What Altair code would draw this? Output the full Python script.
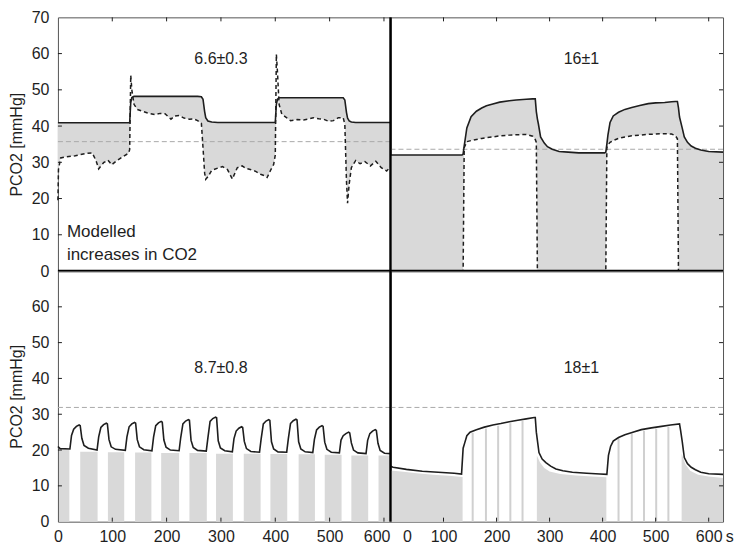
import altair as alt
import pandas as pd

FONT = "Liberation Sans"
INK = "#1e1e1e"
BAND = "#d9d9d9"
REFC = "#a9a9a9"

LEFT_DOM = [0, 612]
RIGHT_DOM = [0, 627]
W = 333
H_T, H_B = 254, 251

x_ticks = [100, 200, 300, 400, 500, 600]
x_labels = [0, 100, 200, 300, 400, 500, 600]
y_ticks = [10, 20, 30, 40, 50, 60]
y_labels_top = [0, 10, 20, 30, 40, 50, 60, 70]
y_labels_bottom = [0, 10, 20, 30, 40, 50, 60]

# ---------------- top-left panel ----------------
tl_t = [0, 1, 5, 14, 32, 50, 63, 70, 75, 84, 92, 99, 106, 114, 122, 130, 132,
        134, 136, 140, 146, 154, 165, 178, 188, 197, 208, 215, 223, 232, 242, 250, 257, 264,
        267, 270, 272, 276, 283, 294, 303, 312, 321, 330, 339, 346, 354, 364, 373, 380, 385, 392, 397, 400,
        402, 404, 407, 412, 420, 428, 440, 452, 462, 470, 480, 489, 498, 507, 516, 525,
        528, 531, 533, 536, 540, 548, 556, 565, 575, 585, 595, 605, 612]
tl_solid = [40.9, 40.9, 40.9, 40.9, 40.9, 40.9, 40.9, 40.9, 40.9, 40.9, 40.9, 40.9, 40.9, 40.9, 40.9, 40.9, 40.9,
            46.5, 47.9, 48.2, 48.2, 48.2, 48.2, 48.2, 48.2, 48.2, 48.2, 48.2, 48.2, 48.2, 48.2, 48.2, 48.2, 48.1,
            47.4, 44.0, 42.3, 41.4, 41.1, 41.0, 41.0, 41.0, 41.0, 41.0, 41.0, 41.0, 41.0, 41.0, 41.0, 41.0, 41.0, 41.0, 41.0, 41.0,
            46.0, 47.4, 47.8, 47.8, 47.8, 47.8, 47.8, 47.8, 47.8, 47.8, 47.8, 47.8, 47.8, 47.8, 47.8, 47.8,
            47.2, 43.8, 42.2, 41.4, 41.1, 41.0, 41.0, 41.0, 41.0, 41.0, 41.0, 41.0, 41.0]
tl_dashed = [19.5, 28.0, 31.2, 31.5, 31.8, 32.4, 32.6, 30.5, 28.2, 29.9, 30.6, 29.3, 30.2, 31.0, 31.8, 32.5, 33.5,
             54.0, 50.0, 46.0, 44.6, 44.2, 43.6, 43.2, 43.5, 43.4, 41.9, 42.8, 42.9, 42.2, 41.9, 42.0, 41.5, 40.8,
             34.0, 27.0, 25.3, 26.0, 27.8, 28.4, 28.8, 28.0, 25.4, 28.5, 29.0, 28.3, 28.0, 27.5, 26.7, 26.3, 25.8, 28.0, 29.4, 32.0,
             59.8, 55.0, 46.0, 43.3, 42.4, 41.5, 41.8, 41.7, 42.0, 42.3, 42.0, 41.9, 41.3, 41.5, 42.3, 42.3,
             40.5, 25.0, 18.7, 24.0, 28.5, 30.5, 29.6, 30.2, 29.0, 30.3, 28.5, 27.6, 28.8]
tl_ref = 35.7

# ---------------- top-right panel ----------------
tr_t = [0, 135, 137, 139, 144, 152, 162, 172, 181, 193, 206, 224, 237, 256, 268,
        273, 275, 277, 279, 283, 290, 296, 305, 318, 335, 355, 380, 404, 406,
        408, 410, 414, 420, 430, 442, 455, 470, 486, 500, 517, 530, 537, 541,
        543, 545, 550, 554, 560, 567, 575, 585, 600, 627]
tr_solid = [32.0, 32.0, 32.3, 34.5, 39.5, 42.6, 44.1, 45.0, 45.6, 46.1, 46.6, 47.0, 47.2, 47.4, 47.5,
            47.5, 44.0, 42.0, 40.5, 37.0, 35.3, 34.3, 33.6, 33.0, 32.8, 32.6, 32.6, 32.6, 32.8,
            35.0, 37.5, 41.0, 42.8, 43.8, 44.6, 45.1, 45.7, 46.2, 46.4, 46.5, 46.7, 46.8, 46.8,
            45.0, 42.5, 39.5, 37.0, 35.5, 34.5, 33.9, 33.4, 33.0, 32.8]
tr_dashed = [0, 0, 0, 34.0, 35.7, 36.0, 36.3, 36.6, 36.8, 37.0, 37.3, 37.5, 37.6, 37.7, 37.2,
             36.3, 35.5, 0, 0, 0, 0, 0, 0, 0, 0, 0, 0, 0, 0,
             34.0, 34.8, 35.5, 36.0, 36.6, 37.0, 37.3, 37.5, 37.7, 37.8, 37.9, 37.8, 37.4, 36.5,
             0, 0, 0, 0, 0, 0, 0, 0, 0, 0]
tr_ref = 33.6

# ---------------- bottom-left panel ----------------
bl_t = [0, 4,
        22, 25, 29, 34, 39, 41, 44, 48, 56,
        72, 75, 79, 84, 89, 91, 94, 98, 106,
        124, 127, 131, 136, 141, 143, 146, 150, 158,
        173, 176, 180, 185, 190, 192, 195, 199, 207,
        223, 226, 230, 235, 240, 242, 245, 249, 257,
        273, 276, 280, 285, 290, 292, 295, 299, 307,
        321, 324, 328, 333, 338, 340, 343, 347, 355,
        371, 374, 378, 383, 388, 390, 393, 397, 405,
        421, 424, 428, 433, 438, 440, 443, 447, 455,
        469, 472, 476, 481, 486, 488, 491, 495, 503,
        518, 521, 525, 530, 535, 537, 540, 544, 552,
        567, 570, 574, 579, 584, 586, 589, 593, 601, 612]
bl_v = [21.0, 20.4,
        20.3, 24.1, 25.8, 26.6, 27.0, 26.8, 23.3, 21.3, 20.5,
        20.0, 23.7, 26.3, 27.1, 27.5, 27.3, 22.9, 20.9, 20.2,
        19.9, 23.7, 26.5, 27.3, 27.7, 27.5, 22.9, 20.9, 20.1,
        19.8, 23.6, 26.8, 27.6, 28.0, 27.8, 22.8, 20.8, 20.0,
        19.8, 23.5, 27.3, 28.1, 28.5, 28.3, 22.7, 20.7, 19.9,
        19.7, 23.4, 28.0, 28.8, 29.2, 29.0, 22.6, 20.6, 19.8,
        19.5, 23.2, 25.3, 26.1, 26.5, 26.3, 22.4, 20.4, 19.6,
        19.4, 23.1, 27.3, 28.1, 28.5, 28.3, 22.3, 20.3, 19.5,
        19.4, 23.1, 27.4, 28.2, 28.6, 28.4, 22.3, 20.3, 19.5,
        19.3, 23.0, 25.6, 26.4, 26.8, 26.6, 22.2, 20.2, 19.4,
        19.2, 22.8, 24.0, 24.6, 25.0, 24.8, 22.0, 20.0, 19.2,
        19.0, 22.7, 24.6, 25.3, 25.7, 25.5, 21.9, 19.9, 19.1, 19.0]
bl_g_x0 = [2, 41, 92, 142, 190, 242, 291, 342, 391, 443, 491, 540, 590]
bl_g_x1 = [21, 73, 122, 172, 223, 274, 322, 373, 422, 473, 522, 571, 612]
bl_g_top = [20.0, 19.5, 19.4, 19.3, 19.2, 19.2, 19.0, 19.0, 18.9, 18.8, 18.7, 18.5, 18.5]
bl_ref = 31.9

# ---------------- bottom-right panel ----------------
br_t = [0, 5, 30, 60, 90, 120, 134,
        137, 140, 144, 150, 162, 177, 193, 208, 224, 240, 256, 271,
        273, 275, 280, 286, 293, 302, 312, 325, 343, 370, 395, 408,
        411, 415, 420, 430, 442, 457, 473, 492, 511, 528, 545,
        547, 550, 554, 560, 567, 575, 585, 600, 627]
br_v = [15.5, 15.2, 14.6, 14.1, 13.8, 13.5, 13.3,
        20.5, 22.0, 24.0, 25.0, 25.7, 26.4, 27.0, 27.4, 27.9, 28.3, 28.7, 29.1,
        29.1, 25.0, 19.3, 17.5, 16.5, 15.5, 14.7, 14.2, 13.8, 13.5, 13.3, 13.2,
        18.5, 21.0, 22.5, 23.5, 24.3, 25.0, 25.7, 26.2, 26.6, 27.0, 27.3,
        25.5, 22.5, 17.9, 16.2, 15.2, 14.5, 13.8, 13.4, 13.2]
br_g_t = [0, 20, 50, 80, 110, 136,
          276, 282, 290, 300, 320, 350, 380, 407,
          549, 556, 565, 580, 600, 627]
br_g_top = [14.3, 14.0, 13.5, 13.1, 12.8, 12.5,
            18.5, 16.5, 15.0, 14.0, 13.3, 12.9, 12.6, 12.4,
            19.0, 16.0, 14.2, 13.1, 12.6, 12.2]
br_g_seg = [1, 1, 1, 1, 1, 1,
            2, 2, 2, 2, 2, 2, 2, 2,
            3, 3, 3, 3, 3, 3]
br_s_t = [155, 180, 203, 226, 249, 430, 455, 478, 501, 524]
br_s_top = [24.8, 26.0, 26.8, 27.5, 28.1, 23.3, 24.6, 25.4, 26.0, 26.5]
br_ref = 31.9

# ---------------- axes ----------------
yaxis_top = alt.Axis(values=y_labels_top, title="PCO2 [mmHg]", labelPadding=9,
                     minExtent=27, maxExtent=27, titlePadding=6)
yaxis_bottom = alt.Axis(values=y_labels_bottom, title="PCO2 [mmHg]", labelPadding=9,
                        minExtent=27, maxExtent=27, titlePadding=6)
xaxis_bl = alt.Axis(values=x_labels, title=None, labelFlush=False, labelPadding=7,
                    labelAlign={"condition": {"test": "datum.value === 600", "value": "right"}, "value": "center"},
                    labelOffset={"condition": {"test": "datum.value === 600", "value": 6}, "value": 0})
xaxis_br = alt.Axis(values=x_labels, title=None, labelFlush=False, labelPadding=7,
                    labelAlign={"condition": {"test": "datum.value === 0", "value": "left"}, "value": "center"},
                    labelOffset={"condition": {"test": "datum.value === 0", "value": 12}, "value": 0})


class Panel:
    """Encodings sharing one x/y scale and one axis spec per channel."""

    def __init__(self, dom, xaxis, yaxis, w, h):
        self.dom = dom
        self.xaxis = xaxis
        self.yaxis = yaxis
        self.w = w
        self.h = h

    def X(self, field):
        return alt.X(field, type="quantitative",
                     scale=alt.Scale(domain=self.dom, nice=False, zero=False), axis=self.xaxis)

    def Y(self, field):
        return alt.Y(field, type="quantitative",
                     scale=alt.Scale(domain=[0, 70], nice=False, zero=False), axis=self.yaxis)

    def ref_line(self, val):
        return alt.Chart(pd.DataFrame({"v": [val]})).mark_rule(
            color=REFC, strokeDash=[5, 3], strokeWidth=1).encode(y=self.Y("v"))

    def top_ticks(self):
        return alt.Chart(pd.DataFrame({"t": x_ticks})).mark_rule(color=INK, strokeWidth=1).encode(
            x=self.X("t"), y=alt.value(0), y2=alt.value(4))

    def bottom_ticks(self):
        return alt.Chart(pd.DataFrame({"t": x_ticks})).mark_rule(color=INK, strokeWidth=1).encode(
            x=self.X("t"), y=alt.value(self.h), y2=alt.value(self.h - 4))

    def left_ticks(self):
        return alt.Chart(pd.DataFrame({"v": y_ticks})).mark_rule(color=INK, strokeWidth=1).encode(
            y=self.Y("v"), x=alt.value(0), x2=alt.value(4))

    def right_ticks(self):
        return alt.Chart(pd.DataFrame({"v": y_ticks})).mark_rule(color=INK, strokeWidth=1).encode(
            y=self.Y("v"), x=alt.value(self.w), x2=alt.value(self.w - 4))

    def hdivider(self):
        # thick black frame line along the bottom edge
        return alt.Chart(pd.DataFrame({"v": [0]})).mark_rule(color="#000", strokeWidth=2.4).encode(
            y=alt.value(self.h), x=alt.value(0), x2=alt.value(self.w))

    def vdivider(self):
        # thick black frame line along the left edge
        return alt.Chart(pd.DataFrame({"v": [0]})).mark_rule(color="#000", strokeWidth=2.4).encode(
            x=alt.value(0), y=alt.value(0), y2=alt.value(self.h))

    def label(self, t, v, s, size, align="center"):
        return alt.Chart(pd.DataFrame({"t": [t], "v": [v], "s": [s]})).mark_text(
            font=FONT, fontSize=size, color=INK, align=align, baseline="middle").encode(
            x=self.X("t"), y=self.Y("v"), text="s:N")


# ---------------- top-left ----------------
P = Panel(LEFT_DOM, None, yaxis_top, W, H_T)
df_tl = pd.DataFrame({"t": tl_t, "solid": tl_solid, "dashed": tl_dashed})
tl = alt.layer(
    alt.Chart(df_tl).transform_calculate(lo="min(datum.dashed, datum.solid)").mark_area(
        color=BAND).encode(x=P.X("t"), y=P.Y("lo"), y2=alt.Y2("solid")),
    P.ref_line(tl_ref),
    alt.Chart(df_tl).mark_line(color=INK, strokeWidth=1.5, strokeDash=[4, 3]).encode(
        x=P.X("t"), y=P.Y("dashed")),
    alt.Chart(df_tl).mark_line(color=INK, strokeWidth=1.6).encode(x=P.X("t"), y=P.Y("solid")),
    P.top_ticks(), P.left_ticks(), P.hdivider(),
    P.label(300, 58.4, "6.6±0.3", 16),
    P.label(16.5, 10.7, "Modelled", 17, "left"),
    P.label(16.5, 4.4, "increases in CO2", 17, "left"),
).properties(width=W, height=H_T)

# ---------------- top-right ----------------
P = Panel(RIGHT_DOM, None, None, W, H_T)
df_tr = pd.DataFrame({"t": tr_t, "solid": tr_solid, "dashed": tr_dashed})
tr = alt.layer(
    alt.Chart(df_tr).transform_calculate(lo="min(datum.dashed, datum.solid)").mark_area(
        color=BAND).encode(x=P.X("t"), y=P.Y("lo"), y2=alt.Y2("solid")),
    P.ref_line(tr_ref),
    alt.Chart(df_tr).mark_line(color=INK, strokeWidth=1.5, strokeDash=[4, 3]).encode(
        x=P.X("t"), y=P.Y("dashed")),
    alt.Chart(df_tr).mark_line(color=INK, strokeWidth=1.6).encode(x=P.X("t"), y=P.Y("solid")),
    P.top_ticks(), P.right_ticks(), P.hdivider(), P.vdivider(),
    P.label(360, 58.4, "16±1", 16),
).properties(width=W, height=H_T)

# ---------------- bottom-left ----------------
P = Panel(LEFT_DOM, xaxis_bl, yaxis_bottom, W, H_B)
df_bl_g = pd.DataFrame({"x0": bl_g_x0, "x1": bl_g_x1, "top": bl_g_top, "zero": [0] * len(bl_g_x0)})
df_bl = pd.DataFrame({"t": bl_t, "v": bl_v})
bl = alt.layer(
    alt.Chart(df_bl_g).mark_rect(color=BAND).encode(
        x=P.X("x0"), x2=alt.X2("x1"), y=P.Y("zero"), y2=alt.Y2("top")),
    P.ref_line(bl_ref),
    alt.Chart(df_bl).mark_line(color=INK, strokeWidth=1.6).encode(x=P.X("t"), y=P.Y("v")),
    P.bottom_ticks(), P.left_ticks(),
    P.label(300, 43, "8.7±0.8", 16),
).properties(width=W, height=H_B)

# ---------------- bottom-right ----------------
P = Panel(RIGHT_DOM, xaxis_br, None, W, H_B)
df_br_g = pd.DataFrame({"t": br_g_t, "top": br_g_top, "seg": br_g_seg, "zero": [0] * len(br_g_t)})
df_br_s = pd.DataFrame({"t": br_s_t, "top": br_s_top, "zero": [0] * len(br_s_t)})
df_br = pd.DataFrame({"t": br_t, "v": br_v})
br = alt.layer(
    alt.Chart(df_br_g).mark_area(color=BAND).encode(
        x=P.X("t"), y=P.Y("zero"), y2=alt.Y2("top"), detail="seg:N"),
    alt.Chart(df_br_s).mark_rule(color="#d0d0d0", strokeWidth=2).encode(
        x=P.X("t"), y=P.Y("zero"), y2=alt.Y2("top")),
    P.ref_line(br_ref),
    alt.Chart(df_br).mark_line(color=INK, strokeWidth=1.6).encode(x=P.X("t"), y=P.Y("v")),
    P.bottom_ticks(), P.right_ticks(), P.vdivider(),
    P.label(360, 43, "18±1", 16),
    alt.Chart(pd.DataFrame({"t": [600], "s": ["s"]})).mark_text(
        font=FONT, fontSize=16, color=INK, align="left", baseline="top", dx=17).encode(
        x=P.X("t"), y=alt.value(H_B + 7), text="s:N"),
).properties(width=W, height=H_B)

chart = alt.concat(tl, tr, bl, br, columns=2, spacing=0, bounds="flush", align="all").properties(
    padding={"left": 0, "top": 0, "right": 0, "bottom": 0}
).configure_view(stroke="#555", strokeWidth=1).configure_axis(
    labelFont=FONT, labelFontSize=16, labelColor=INK,
    titleFont=FONT, titleFontSize=16, titleFontWeight="normal", titleColor=INK,
    ticks=False, tickSize=0, domain=False, grid=False,
)

chart.save("out.html", embed_options={"renderer": "svg", "actions": False})
